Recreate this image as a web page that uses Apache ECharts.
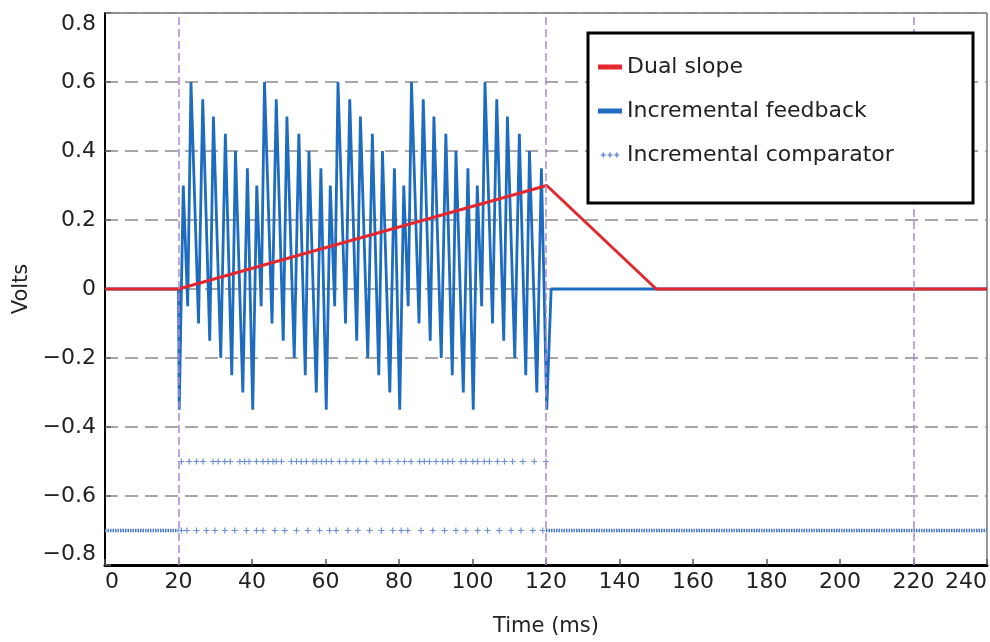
<!DOCTYPE html>
<html><head><meta charset="utf-8">
<script src="https://cdn.jsdelivr.net/npm/echarts@6/dist/echarts.min.js"></script>
<style>html,body{margin:0;padding:0;background:#fff}#c{width:990px;height:642px}</style>
</head><body><div id="c"></div>
<script>
// ---------- data ----------
const seriesNames = ['Dual slope', 'Incremental feedback', 'Incremental comparator'];
const xAxisTitle = 'Time (ms)';
const yAxisTitle = 'Volts';
const refTimes = [20, 120, 220];

const dualSlopeT = [0, 20, 120.2, 150, 240];
const dualSlopeV = [0, 0, 0.30, 0, 0];

const feedbackT = [0, 20.0,
  20.2, 21.3, 22.5, 23.4, 25.45, 26.6, 28.5, 29.5, 31.5, 32.75, 34.5, 35.5, 37.5, 38.75,
  40.2, 41.3, 42.5, 43.4, 45.45, 46.6, 48.5, 49.5, 51.5, 52.75, 54.5, 55.5, 57.5, 58.75,
  60.2, 61.3, 62.5, 63.4, 65.45, 66.6, 68.5, 69.5, 71.5, 72.75, 74.5, 75.5, 77.5, 78.75,
  80.2, 81.3, 82.5, 83.4, 85.45, 86.6, 88.5, 89.5, 91.5, 92.75, 94.5, 95.5, 97.5, 98.75,
  100.2, 101.3, 102.5, 103.4, 105.45, 106.6, 108.5, 109.5, 111.5, 112.75, 114.5, 115.5, 117.5, 118.75,
  120.2, 121.4, 240];
const feedbackV = [0, 0,
  -0.35, 0.30, -0.05, 0.60, -0.10, 0.55, -0.15, 0.50, -0.20, 0.45, -0.25, 0.40, -0.30, 0.35,
  -0.35, 0.30, -0.05, 0.60, -0.10, 0.55, -0.15, 0.50, -0.20, 0.45, -0.25, 0.40, -0.30, 0.35,
  -0.35, 0.30, -0.05, 0.60, -0.10, 0.55, -0.15, 0.50, -0.20, 0.45, -0.25, 0.40, -0.30, 0.35,
  -0.35, 0.30, -0.05, 0.60, -0.10, 0.55, -0.15, 0.50, -0.20, 0.45, -0.25, 0.40, -0.30, 0.35,
  -0.35, 0.30, -0.05, 0.60, -0.10, 0.55, -0.15, 0.50, -0.20, 0.45, -0.25, 0.40, -0.30, 0.35,
  -0.35, 0, 0];

const compHighLevel = -0.5;
const compLowLevel = -0.7;
const compHighT = [20.8, 22.9, 24.9, 26.7, 29.4, 30.8, 32.6, 34.1, 36.7, 38.0, 39.2, 41.2, 43.0, 44.4,
  45.7, 46.6, 48.0, 50.7, 52.1, 53.4, 54.8, 56.6, 57.5, 58.9, 60.2, 61.6, 63.8, 65.6, 67.5, 69.3,
  71.1, 73.8, 75.6, 77.4, 79.7, 81.5, 83.3, 85.6, 86.9, 88.3, 90.1, 91.9, 93.3, 94.6, 96.9, 98.2,
  100.1, 101.4, 103.2, 104.6, 106.8, 108.7, 110.9, 113.7, 116.8, 120.0];
const compLowT = [20.8, 22.3, 24.9, 27.6, 29.9, 32.6, 35.3, 38.5, 41.2, 43.0, 46.2, 48.9, 52.1, 55.2,
  58.4, 61.1, 62.9, 66.1, 68.8, 72.0, 75.2, 78.3, 80.6, 82.4, 86.0, 89.2, 92.4, 95.5, 98.2, 101.4,
  104.1, 107.3, 110.5, 113.2, 116.4, 119.1];
const compDenseStart = [0, 120];
const compDenseEnd = [20, 240];

// ---------- chart ----------
const FONT = 'DejaVu Sans';
const plusPath = 'path://M4,0h2v4h4v2h-4v4h-2v-4h-4v-2h4z';
const plus3Path = 'path://M1,0h1v1h1v1h-1v1h-1v-1h-1v-1h1zM5,0h1v1h1v1h-1v1h-1v-1h-1v-1h1zM9,0h1v1h1v1h-1v1h-1v-1h-1v-1h1z';
const RED = '#e4262d', BLUE = '#1e6cc0', COMP = '#4677cc';

const pair = (ts, vs) => ts.map((t, i) => [t, vs[i]]);
const denseData = [];
compDenseStart.forEach((s, i) => {
  if (i > 0) denseData.push('-');
  denseData.push([s, compLowLevel], [compDenseEnd[i], compLowLevel]);
});

const fmtY = v => {
  const r = Math.round(v * 10) / 10;
  if (r === 0) return '0';
  return (r < 0 ? '\u2212' : '') + Math.abs(r).toFixed(1);
};

const chart = echarts.init(document.getElementById('c'), null, {renderer: 'canvas'});
chart.setOption({
  animation: false,
  backgroundColor: '#fff',
  textStyle: {fontFamily: FONT},
  grid: {left: 105, right: 2, top: 13, bottom: 74, show: true, borderColor: '#333', borderWidth: 1},
  xAxis: {
    type: 'value', min: 0, max: 240, interval: 20,
    name: xAxisTitle, nameLocation: 'middle', nameGap: 51,
    nameTextStyle: {fontSize: 21, color: '#222', fontFamily: FONT},
    axisLine: {show: true, onZero: false, lineStyle: {color: '#000', width: 3}},
    axisTick: {show: true, inside: true, length: 6, lineStyle: {color: '#555', width: 1.5}},
    axisLabel: {fontSize: 22, color: '#222', margin: 6, fontFamily: FONT, alignMinLabel: 'left', alignMaxLabel: 'right'},
    splitLine: {show: false}
  },
  yAxis: {
    type: 'value', min: -0.8, max: 0.8, interval: 0.2,
    name: yAxisTitle, nameLocation: 'middle', nameGap: 66,
    nameTextStyle: {fontSize: 21, color: '#222', fontFamily: FONT},
    axisLine: {show: true, lineStyle: {color: '#000', width: 2}},
    axisTick: {show: true, inside: true, length: 6, lineStyle: {color: '#666', width: 1.5}},
    axisLabel: {fontSize: 22, color: '#222', margin: 9, fontFamily: FONT, formatter: fmtY,
      verticalAlignMinLabel: 'bottom', verticalAlignMaxLabel: 'top'},
    splitLine: {show: true, lineStyle: {color: '#8a8a8a', width: 1.5, type: [13, 7]}}
  },
  legend: {
    orient: 'vertical', left: 598, top: 55, padding: 0, z: 101,
    itemWidth: 24, itemHeight: 5, itemGap: 20,
    textStyle: {fontSize: 22, color: '#222', fontFamily: FONT, lineHeight: 24},
    data: [
      {name: seriesNames[0], icon: 'rect', itemStyle: {color: RED}},
      {name: seriesNames[1], icon: 'rect', itemStyle: {color: BLUE}},
      {name: seriesNames[2], icon: plus3Path, itemStyle: {color: COMP}}
    ]
  },
  graphic: {elements: [{
    type: 'rect', z: 100, shape: {x: 588, y: 33, width: 385, height: 170},
    style: {fill: '#fff', stroke: '#000', lineWidth: 3}
  }]},
  series: [
    {
      name: seriesNames[1], type: 'line', z: 3, showSymbol: false,
      data: pair(feedbackT, feedbackV),
      lineStyle: {color: BLUE, width: 2.8}, itemStyle: {color: BLUE},
      markLine: {
        silent: true, symbol: 'none', label: {show: false},
        lineStyle: {color: '#a98ad8', width: 1.5, type: [8, 4]},
        data: refTimes.map(t => ({xAxis: t}))
      }
    },
    {
      name: seriesNames[0], type: 'line', z: 4, showSymbol: false,
      data: pair(dualSlopeT, dualSlopeV),
      lineStyle: {color: RED, width: 3}, itemStyle: {color: RED}
    },
    {
      name: seriesNames[2], type: 'scatter', z: 3, symbol: plusPath, symbolSize: 6,
      data: compHighT.map(t => [t, compHighLevel]), itemStyle: {color: COMP}
    },
    {
      name: seriesNames[2], type: 'scatter', z: 3, symbol: plusPath, symbolSize: 6,
      data: compLowT.map(t => [t, compLowLevel]), itemStyle: {color: COMP}
    },
    {
      name: seriesNames[2], type: 'line', z: 3, showSymbol: false, connectNulls: false,
      data: denseData,
      lineStyle: {color: COMP, width: 3.5, type: [1.5, 1]}, itemStyle: {color: COMP}
    }
  ]
});
</script>
</body></html>
